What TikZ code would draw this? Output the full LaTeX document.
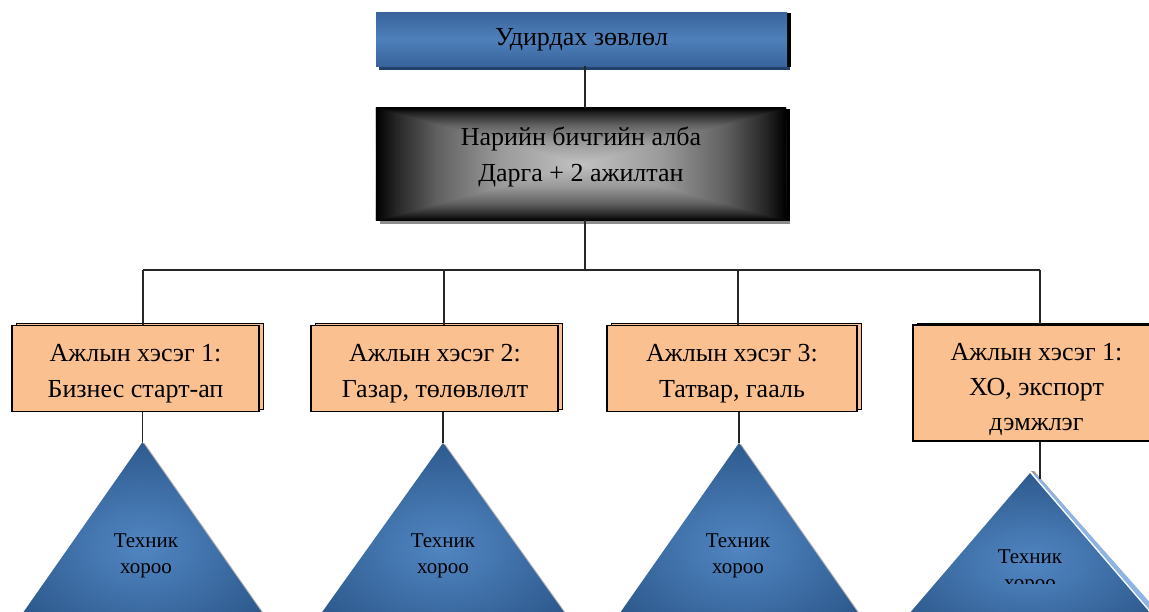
\documentclass[tikz,border=0pt]{standalone}
\usepackage{fontspec}
\setmainfont{Liberation Serif}
\usetikzlibrary{shadows}
\definecolor{orng}{HTML}{FAC090}
\definecolor{blueA}{HTML}{38649B}
\definecolor{blueB}{HTML}{4F80BA}
\definecolor{blueD}{HTML}{22426B}
\definecolor{triA}{HTML}{5186C2}
\definecolor{triB}{HTML}{2E5A8E}
\definecolor{bevel}{HTML}{8DB4E2}
\pgfdeclareverticalshading{edgefade}{100bp}{color(0bp)=(black!24); color(25bp)=(black!24); color(45bp)=(black!40); color(60bp)=(black!62); color(70bp)=(black!85); color(75bp)=(black); color(100bp)=(black)}
\begin{document}
\begin{tikzpicture}[x=1pt,y=-1pt,
  conn/.style={draw=black!85, line width=1.4pt},
  bigfont/.style={font=\fontsize{26}{36}\selectfont},
  smallfont/.style={font=\fontsize{21}{26}\selectfont},
  txt/.style={align=center, inner sep=0pt},
  fade/.style={shading=edgefade, shading angle=#1},
  topbox/.style={rectangle, inner sep=0pt, minimum width=411pt, minimum height=54pt,
    top color=blueA, bottom color=blueA, middle color=blueB,
    general shadow={fill=blueD, shadow xshift=3pt, shadow yshift=-4pt},
    general shadow={fill=black, shadow xshift=4pt, shadow yshift=-1pt}},
  secbox/.style={rectangle, inner sep=0pt, minimum width=410pt, minimum height=112pt,
    fill=black,
    general shadow={fill=black!45, shadow xshift=4pt, shadow yshift=-4pt},
    general shadow={fill=black, shadow xshift=4pt, shadow yshift=-1pt}},
  wgbox/.style={rectangle, inner sep=0pt, minimum height=86pt, fill=orng, draw=black, line width=1.3pt,
    general shadow={fill=orng, draw=black, line width=1pt, shadow xshift=4pt, shadow yshift=2pt}},
  tri/.style={inner color=triA, outer color=triB,
    general shadow={fill=black!30, shadow xshift=2pt, shadow yshift=-1pt}},
]
\useasboundingbox (0,0) rectangle (1149,611);
\fill[white] (0,0) rectangle (1149,611);

% top boxes
\node[topbox] (top) at (581.5,39) {};
\node[txt, bigfont] (toptxt) at (581.5,40) {Удирдах зөвлөл};
\node[secbox] (sec) at (581,164) {};
\shade[fade=0] (sec.north west) rectangle (sec.east);
\shade[fade=180] (sec.west) rectangle (sec.south east);
\shade[fade=90] (sec.north west) -- (sec.south west) -- (sec.center) -- cycle;
\shade[fade=270] (sec.north east) -- (sec.south east) -- (sec.center) -- cycle;
\node[txt, bigfont] (sectxt) at (581,157) {Нарийн бичгийн алба\\Дарга + 2 ажилтан};

% working groups
\node[wgbox, minimum width=247pt] (b1) at (135.5,368.5) {};
\node[wgbox, minimum width=247pt] (b2) at (434.5,368.5) {};
\node[wgbox, minimum width=250pt] (b3) at (732,368.5) {};
\node[wgbox, minimum width=247pt, minimum height=116pt] (b4) at (1036.5,383) {};
\node[txt, bigfont] (b1t) at (135.5,374) {Ажлын хэсэг 1:\\Бизнес старт-ап};
\node[txt, bigfont] (b2t) at (435,374) {Ажлын хэсэг 2:\\Газар, төлөвлөлт};
\node[txt, bigfont] (b3t) at (732,374) {Ажлын хэсэг 3:\\Татвар, гааль};
\node[txt, bigfont, font=\fontsize{26}{35}\selectfont] (b4t) at (1036.5,389) {Ажлын хэсэг 1:\\ХО, экспорт\\дэмжлэг};

% bus coordinates
\coordinate (hL) at (143,270);
\coordinate (h2) at (444,270);
\coordinate (h3) at (738,270);
\coordinate (hR) at (1040,270);
\coordinate (hc) at (585,270);

% triangles
\coordinate (t1) at (142.5,442);
\coordinate (t2) at (443,443);
\coordinate (t3) at (739,443);
\coordinate (t4) at (1030,473);
\coordinate (t4c) at (1040,479);
\path[tri] (t1) -- ++(-145.6,208) -- ++(291.2,0) -- cycle;
\path[tri] (t2) -- ++(-148,207) -- ++(296,0) -- cycle;
\path[tri] (t3) -- ++(-145,207) -- ++(290,0) -- cycle;
\fill[black!40] (1031,471) -- ++(160,186) -- ++(6,0) -- (1034,471) -- cycle;
\fill[bevel] (1034,475) -- ++(150,175) -- ++(8,0) -- (1036,474) -- cycle;
\path[inner color=triA, outer color=triB] (t4) -- ++(-152,177) -- ++(304,0) -- cycle;

\node[txt, smallfont] (tr1) at (146,556) {Техник\\хороо};
\node[txt, smallfont] (tr2) at (443,556) {Техник\\хороо};
\node[txt, smallfont] (tr3) at (738,556) {Техник\\хороо};
\begin{scope}
  \clip (900,430) rectangle (1149,583);
  \node[txt, smallfont] (tr4) at (1030,572) {Техник\\хороо};
\end{scope}

% connectors
\draw[conn] (top.south -| hc) -- (sec.north -| hc);
\draw[conn] (sec.south -| hc) -- (hc);
\draw[conn] (hL) -- (hR);
\draw[conn] (hL) -- (b1.north -| hL);
\draw[conn] (h2) -- (b2.north -| h2);
\draw[conn] (h3) -- (b3.north -| h3);
\draw[conn] (hR) -- (b4.north -| hR);
\draw[conn] (b1.south -| t1) -- (t1);
\draw[conn] (b2.south -| t2) -- (t2);
\draw[conn] (b3.south -| t3) -- (t3);
\draw[conn] (b4.south -| t4c) -- (t4c);
\end{tikzpicture}
\end{document}
